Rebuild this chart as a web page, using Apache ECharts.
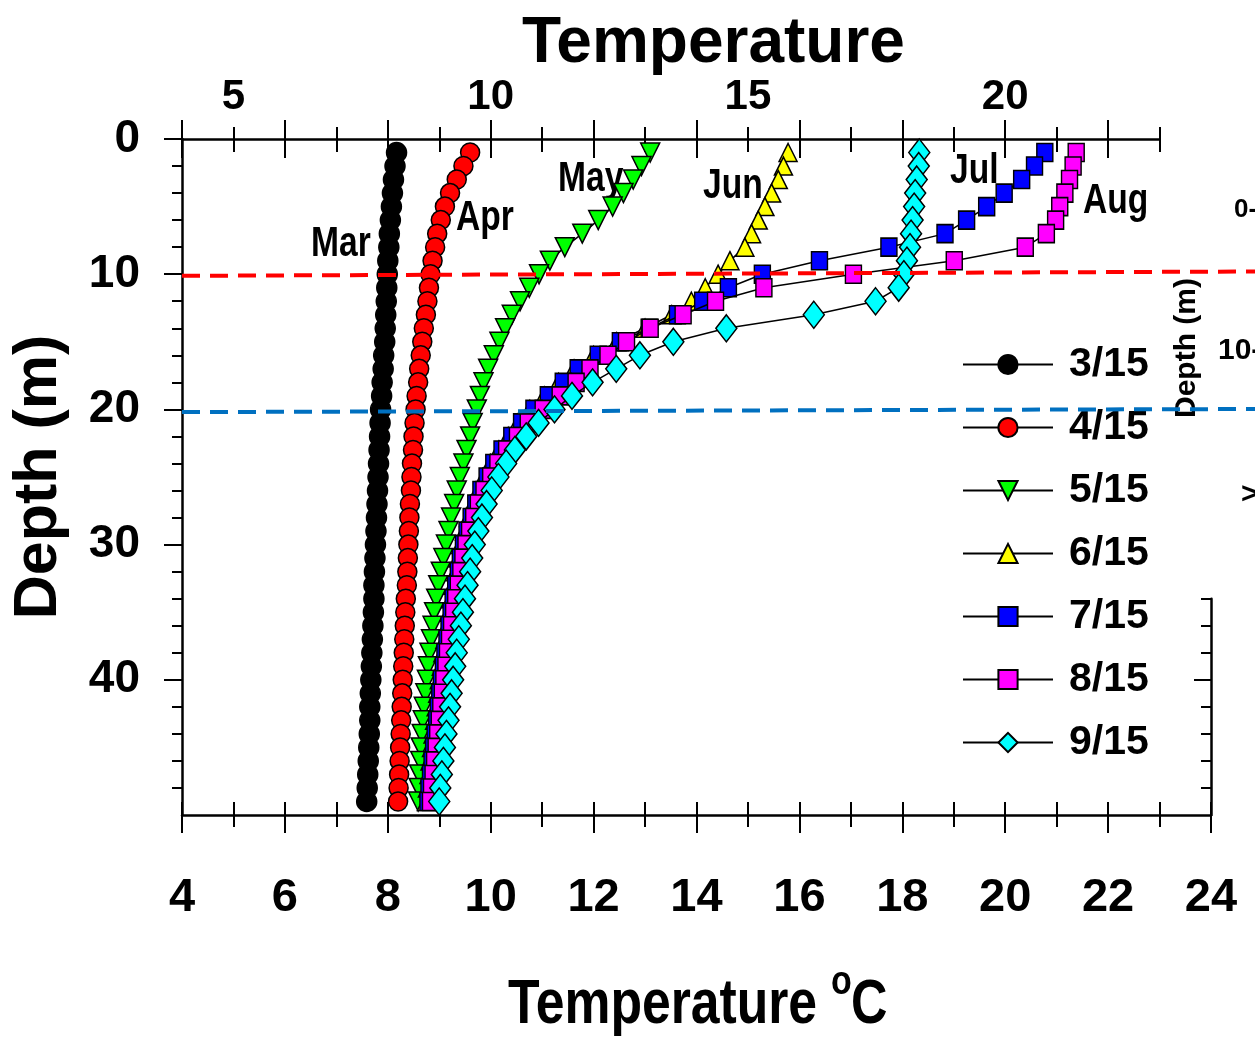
<!DOCTYPE html>
<html><head><meta charset="utf-8">
<script src="https://cdn.jsdelivr.net/npm/echarts@6/dist/echarts.min.js"></script>
<style>html,body{margin:0;padding:0;background:#fff}#c{width:1255px;height:1053px}</style>
</head><body><div id="c"></div>
<script>
// ---- data ----
const depths = [1,2,3,4,5,6,7,8,9,10,11,12,13,14,15,16,17,18,19,20,21,22,23,24,25,26,27,28,29,30,31,32,33,34,35,36,37,38,39,40,41,42,43,44,45,46,47,48,49];
const mar = [8.17,8.14,8.11,8.09,8.07,8.05,8.03,8.02,8.00,7.99, 7.98,7.97,7.96,7.95,7.94,7.92,7.91,7.89,7.88,7.86, 7.85,7.84,7.83,7.82,7.81,7.80,7.79,7.78,7.77,7.76, 7.75,7.74,7.73,7.73,7.72,7.71,7.70,7.69,7.68,7.67, 7.66,7.65,7.65,7.64,7.63,7.62,7.61,7.60,7.59];
const apr = [9.60,9.47,9.34,9.21,9.11,9.03,8.96,8.92,8.87,8.83, 8.80,8.77,8.74,8.70,8.67,8.64,8.61,8.59,8.56,8.54, 8.52,8.50,8.49,8.47,8.46,8.45,8.43,8.42,8.41,8.40, 8.39,8.38,8.37,8.35,8.34,8.33,8.32,8.31,8.30,8.29, 8.28,8.27,8.26,8.25,8.24,8.23,8.22,8.21,8.20];
const may = [13.10,12.93,12.77,12.58,12.37,12.09,11.78,11.44,11.15,10.94, 10.75,10.57,10.41,10.28,10.17,10.06,9.95,9.86,9.79,9.73, 9.65,9.60,9.53,9.47,9.40,9.34,9.29,9.23,9.18,9.13, 9.08,9.03,8.98,8.94,8.90,8.87,8.84,8.81,8.78,8.76, 8.73,8.70,8.68,8.66,8.64,8.63,8.61,8.60,8.59];
const jun = [15.78,15.69,15.59,15.46,15.33,15.20,15.07,14.94,14.65,14.42, 14.17,13.90,13.52,13.00,12.45,12.00,11.62,11.32,11.04,10.76, 10.53,10.34,10.16,10.00,9.87,9.76,9.66,9.57,9.49,9.42, 9.37,9.32,9.27,9.23,9.19,9.15,9.11,9.07,9.04,9.00, 8.97,8.94,8.91,8.88,8.85,8.82,8.80,8.77,8.75];
const jul = [20.77,20.57,20.32,19.98,19.64,19.25,18.83,17.74,16.39,15.28, 14.62,14.12,13.63,13.08,12.52,12.09,11.70,11.41,11.12,10.84, 10.60,10.41,10.22,10.06,9.93,9.81,9.71,9.62,9.54,9.47, 9.41,9.37,9.32,9.27,9.23,9.19,9.15,9.11,9.08,9.04, 9.01,8.98,8.95,8.92,8.89,8.86,8.83,8.80,8.78];
const aug = [21.38,21.32,21.25,21.16,21.06,20.98,20.80,20.39,19.01,17.05, 15.31,14.37,13.74,13.10,12.64,12.28,11.93,11.66,11.35,11.02, 10.73,10.52,10.31,10.14,10.00,9.87,9.76,9.67,9.59,9.52, 9.46,9.42,9.37,9.32,9.28,9.24,9.20,9.16,9.13,9.09, 9.06,9.03,9.00,8.97,8.94,8.91,8.88,8.85,8.83];
const sep = [18.33,18.32,18.28,18.25,18.23,18.20,18.17,18.15,18.09,18.03, 17.93,17.48,16.28,14.58,13.55,12.90,12.44,11.98,11.58,11.24, 10.93,10.69,10.47,10.30,10.15,10.02,9.92,9.83,9.76,9.69, 9.64,9.60,9.55,9.50,9.46,9.42,9.38,9.34,9.31,9.27, 9.24,9.21,9.18,9.14,9.11,9.08,9.05,9.02,9.00];
const seriesNames = ['3/15','4/15','5/15','6/15','7/15','8/15','9/15'];
const monthLabels = ['Mar','Apr','May','Jun','Jul','Aug'];
const topLabels = [5,10,15,20];
const topMajorTicks = [4,6,8,10,12,14,16,18,20,22];
const topMinorTicks = [5,7,9,11,13,15,17,19,21,23];
const depthLabels = [0,10,20,30,40];
const depthMinor = [2,4,6,8,12,14,16,18,22,24,26,28,32,34,36,38,42,44,46,48];
const rightMinor = [34,36,38,42,44,46,48];
const rightMajor = [40];
const redLineDepth = [10.12, 9.8];
const blueLineDepth = [20.2, 19.97];
const xTitleParts = ['Temperature', 'o', 'C'];
const insetTexts = ['0-','10-','Depth (m)','>'];

// ---- styles ----
const SANS = "'Liberation Sans', Arial, Helvetica, sans-serif";
const downTri = 'path://M0,0 L20,0 L10,19 Z';

const specs = [
  {data: mar, symbol: 'circle', size: [20,20], color: '#000000'},
  {data: apr, symbol: 'circle', size: [19,19], color: '#ff0000'},
  {data: may, symbol: downTri, size: [19,19], color: '#00ff00'},
  {data: jun, symbol: 'triangle', size: [18,18], color: '#ffff00'},
  {data: jul, symbol: 'rect', size: [16,18], color: '#0000ff'},
  {data: aug, symbol: 'rect', size: [16,18], color: '#ff00ff'},
  {data: sep, symbol: 'diamond', size: [21,27], color: '#00ffff'}
];

const series = specs.map((s, k) => ({
  name: seriesNames[k], type: 'line', xAxisIndex: 0, yAxisIndex: 0,
  data: s.data.map((t, i) => [t, depths[i]]),
  symbol: s.symbol, symbolSize: s.size, showAllSymbol: true, clip: false,
  lineStyle: {color: '#000', width: 1.5},
  itemStyle: {color: s.color, borderColor: '#000', borderWidth: 1.5},
  emphasis: {disabled: true}, z: 2 + k
}));
series.push({
  type: 'line', xAxisIndex: 6, yAxisIndex: 3, data: redLineDepth, symbol: 'none',
  lineStyle: {color: '#ff0000', width: 4, type: [18, 10]}, z: 20, silent: true
});
series.push({
  type: 'line', xAxisIndex: 6, yAxisIndex: 3, data: blueLineDepth, symbol: 'none',
  lineStyle: {color: '#0070c0', width: 4, type: [18, 10]}, z: 20, silent: true
});

const AXL = {show: true, onZero: false, lineStyle: {color: '#000', width: 2.5}};
const NOL = {show: false, onZero: false};
const TK = {color: '#000', width: 2};
const none = {show: false};

function txt(x, y, text, size, opts) {
  return Object.assign({type: 'text', x: x, y: y,
    style: Object.assign({text: text, font: 'bold ' + size + 'px ' + SANS, fill: '#000', verticalAlign: 'middle'}, (opts && opts.style) || {})},
    (opts && opts.el) || {});
}
const NARROWX = {el: {scaleX: 0.8}};

const option = {
  animation: false,
  backgroundColor: '#fff',
  title: {text: 'Temperature', left: 522, top: 12, padding: 0,
    textStyle: {fontFamily: SANS, fontWeight: 'bold', fontSize: 64, color: '#000'}},
  grid: [
    {left: 182, top: 139, width: 1029, height: 676, outerBoundsMode: 'none', containLabel: false},
    {left: 182, top: 139, width: 977.55, height: 676, outerBoundsMode: 'none', containLabel: false},
    {left: 182, top: 139, right: 0, height: 676, outerBoundsMode: 'none', containLabel: false},
    {left: 1211, top: 598.7, width: 1, height: 216.3, outerBoundsMode: 'none', containLabel: false}
  ],
  xAxis: [
    {gridIndex: 0, type: 'value', position: 'bottom', min: 4, max: 24, interval: 2,
      axisLine: AXL, axisTick: {show: true, length: 18, lineStyle: TK},
      minorTick: {show: true, splitNumber: 2, length: 12, lineStyle: TK},
      splitLine: none, minorSplitLine: none,
      axisLabel: {margin: 60, fontFamily: SANS, fontWeight: 'bold', fontSize: 47, color: '#000'}},
    {gridIndex: 0, type: 'value', position: 'bottom', min: 4, max: 24, interval: 1,
      axisLine: NOL, axisTick: {show: true, inside: true, length: 13, lineStyle: TK},
      axisLabel: none, splitLine: none},
    {gridIndex: 1, type: 'value', position: 'top', min: 4, max: 23,
      axisLine: AXL,
      axisTick: {show: true, length: 19, lineStyle: TK, customValues: topMajorTicks},
      axisLabel: {show: true, customValues: topLabels, margin: 21, fontFamily: SANS, fontWeight: 'bold', fontSize: 42, color: '#000'},
      splitLine: none},
    {gridIndex: 1, type: 'value', position: 'top', min: 4, max: 23,
      axisLine: NOL, axisTick: {show: true, length: 12, lineStyle: TK, customValues: topMinorTicks},
      axisLabel: none, splitLine: none},
    {gridIndex: 1, type: 'value', position: 'top', min: 4, max: 23,
      axisLine: NOL, axisTick: {show: true, inside: true, length: 19, lineStyle: TK, customValues: topMajorTicks},
      axisLabel: none, splitLine: none},
    {gridIndex: 1, type: 'value', position: 'top', min: 4, max: 23,
      axisLine: NOL, axisTick: {show: true, inside: true, length: 13, lineStyle: TK, customValues: topMinorTicks},
      axisLabel: none, splitLine: none},
    {gridIndex: 2, type: 'category', data: ['a', 'b'], boundaryGap: false, show: false},
    {gridIndex: 3, type: 'value', show: false, min: 0, max: 1}
  ],
  yAxis: [
    {gridIndex: 0, type: 'value', position: 'left', min: 0, max: 50, inverse: true,
      axisLine: AXL,
      axisTick: {show: true, length: 18, lineStyle: TK, customValues: depthLabels},
      axisLabel: {show: true, customValues: depthLabels, margin: 42, fontFamily: SANS, fontWeight: 'bold', fontSize: 46, color: '#000'},
      splitLine: none,
      name: 'Depth (m)', nameLocation: 'middle', nameGap: 112,
      nameTextStyle: {fontFamily: SANS, fontWeight: 'bold', fontSize: 61, color: '#000'}},
    {gridIndex: 0, type: 'value', position: 'left', min: 0, max: 50, inverse: true,
      axisLine: NOL, axisTick: {show: true, length: 10, lineStyle: TK, customValues: depthMinor},
      axisLabel: none, splitLine: none},
    {gridIndex: 1, type: 'value', show: false, min: 0, max: 50, inverse: true},
    {gridIndex: 2, type: 'value', show: false, min: 0, max: 50, inverse: true},
    {gridIndex: 3, type: 'value', position: 'left', min: 34, max: 50, inverse: true,
      axisLine: AXL,
      axisTick: {show: true, length: 10, lineStyle: TK, customValues: rightMinor},
      axisLabel: none, splitLine: none},
    {gridIndex: 3, type: 'value', position: 'left', min: 34, max: 50, inverse: true,
      axisLine: NOL,
      axisTick: {show: true, length: 17, lineStyle: TK, customValues: rightMajor},
      axisLabel: none, splitLine: none}
  ],
  legend: {
    orient: 'vertical', left: 957, top: 339, itemWidth: 90, itemHeight: 24, itemGap: 22,
    selectedMode: false, data: seriesNames,
    textStyle: {fontFamily: SANS, fontWeight: 'bold', fontSize: 41, color: '#000', padding: [0, 0, 0, 11]}
  },
  graphic: [
    txt(311, 244, monthLabels[0], 42, NARROWX),
    txt(456, 218, monthLabels[1], 42, NARROWX),
    txt(558, 179, monthLabels[2], 42, NARROWX),
    txt(703, 186, monthLabels[3], 42, NARROWX),
    txt(950, 171, monthLabels[4], 42, NARROWX),
    txt(1083, 201, monthLabels[5], 42, NARROWX),
    txt(508, 1006, xTitleParts[0], 63, {el: {scaleX: 0.82}}),
    txt(831, 983, xTitleParts[1], 40, {el: {scaleX: 0.85}}),
    txt(851, 1006, xTitleParts[2], 63, NARROWX),
    txt(1234, 210, insetTexts[0], 26),
    txt(1218, 351, insetTexts[1], 30),
    txt(1187, 348, insetTexts[2], 30, {el: {rotation: Math.PI / 2}, style: {align: 'center'}}),
    txt(1241, 495, insetTexts[3], 30)
  ],
  series: series
};

const chart = echarts.init(document.getElementById('c'), null, {renderer: 'canvas'});
chart.setOption(option);
</script>
</body></html>
